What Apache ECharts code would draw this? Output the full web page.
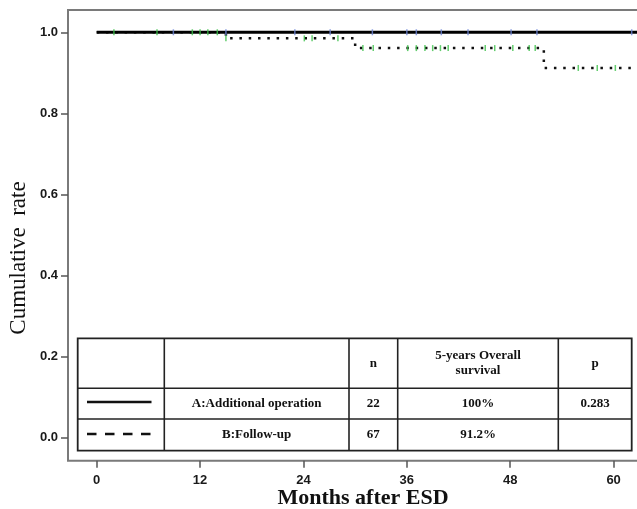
<!DOCTYPE html>
<html>
<head>
<meta charset="utf-8">
<script src="https://cdn.jsdelivr.net/npm/echarts@6/dist/echarts.min.js"></script>
<style>html,body{margin:0;padding:0;background:#fff;}#chart{width:637px;height:509px;}</style>
</head>
<body>
<div id="chart"></div>
<script>
// ---- data ----
const xTicks = [0, 12, 24, 36, 48, 60];
const yTicks = [0.0, 0.2, 0.4, 0.6, 0.8, 1.0];
// Kaplan-Meier step points (month, cumulative rate)
const groupA = [[0, 1.0], [72, 1.0]];
const groupB = [[0, 1.0], [15.0, 0.985], [30.0, 0.961], [51.9, 0.912], [72, 0.912]];
// censored observations (months)
const censorA = [8.9, 15.0, 23.0, 27.1, 32.0, 36.0, 37.1, 40.0, 43.1, 48.1, 51.1, 62.1];
const censorB = [2.0, 7.0, 11.1, 12.0, 12.9, 14.0, 15.0, 24.1, 25.0, 28.0, 30.9, 32.1, 36.1, 37.1, 38.1, 39.0, 39.9, 40.8, 45.1, 46.2, 48.3, 50.2, 50.9, 55.9, 58.1, 60.2];
// table
const tableHeader = ['', '', 'n', '5-years Overall\nsurvival', 'p'];
const tableRows = [
  ['A:Additional operation', '22', '100%', '0.283'],
  ['B:Follow-up', '67', '91.2%', '']
];
const xTitle = 'Months after ESD';
const yTitle = 'Cumulative  rate';

function stepValue(series, m) {
  let v = series[0][1];
  for (const p of series) { if (p[0] <= m) v = p[1]; }
  return v;
}
const censorAData = censorA.map(m => [m, stepValue(groupA, m)]);
const censorBData = censorB.map(m => [m, stepValue(groupB, m)]);

// ---- table graphics ----
const colX = [77.7, 164.3, 349, 397.7, 558.3, 631.7];
const rowY = [338.3, 388.3, 419, 450.7];
const tableFont = 'bold 13px "Liberation Serif", "DejaVu Serif", serif';
const g = [];
g.push({ type: 'rect', shape: { x: colX[0], y: rowY[0], width: colX[5] - colX[0], height: rowY[3] - rowY[0] },
  style: { fill: '#fff', stroke: '#222', lineWidth: 1.8 }, z: 10 });
for (let i = 1; i < colX.length - 1; i++) {
  g.push({ type: 'line', shape: { x1: colX[i], y1: rowY[0], x2: colX[i], y2: rowY[3] }, style: { stroke: '#222', lineWidth: 1.6 }, z: 11 });
}
for (let j = 1; j < rowY.length - 1; j++) {
  g.push({ type: 'line', shape: { x1: colX[0], y1: rowY[j], x2: colX[5], y2: rowY[j] }, style: { stroke: '#222', lineWidth: 1.6 }, z: 11 });
}
function cellText(txt, c, r) {
  return { type: 'text', x: (colX[c] + colX[c + 1]) / 2, y: (rowY[r] + rowY[r + 1]) / 2, z: 12,
    style: { text: txt, font: tableFont, fill: '#111', align: 'center', verticalAlign: 'middle', lineHeight: 15 } };
}
tableHeader.forEach((t, c) => { if (t) g.push(cellText(t, c, 0)); });
tableRows.forEach((row, r) => row.forEach((t, c) => { if (t) g.push(cellText(t, c + 1, r + 1)); }));
// legend samples
g.push({ type: 'line', shape: { x1: 87, y1: 402, x2: 151.5, y2: 402 }, style: { stroke: '#111', lineWidth: 2.5 }, z: 12 });
g.push({ type: 'line', shape: { x1: 87, y1: 434, x2: 151.5, y2: 434 }, style: { stroke: '#111', lineWidth: 2.5, lineDash: [9.5, 8.5] }, z: 12 });
// axis titles
g.push({ type: 'text', x: 363, y: 498, z: 12,
  style: { text: xTitle, font: 'bold 22px "Liberation Serif", serif', fill: '#111', align: 'center', verticalAlign: 'middle' } });
g.push({ type: 'text', x: 19, y: 258, rotation: Math.PI / 2, z: 12,
  style: { text: yTitle, font: '23px "Liberation Serif", serif', fill: '#111', align: 'center', verticalAlign: 'middle' } });

const chart = echarts.init(document.getElementById('chart'), null, { renderer: 'canvas' });
const axisLabelStyle = { color: '#1a1a1a', fontFamily: '"Liberation Sans", Arial, sans-serif', fontWeight: 'bold', fontSize: 13 };
chart.setOption({
  animation: false,
  backgroundColor: '#fff',
  grid: { left: 68, top: 10, width: 649, height: 450.7, outerBoundsMode: 'none', containLabel: false,
    show: true, borderColor: '#7a7a7a', borderWidth: 2, backgroundColor: 'transparent' },
  xAxis: {
    type: 'value', min: -3.33, max: 72,
    axisLine: { show: false, onZero: false },
    axisTick: { show: true, customValues: xTicks, length: 7, lineStyle: { color: '#555', width: 1.5 } },
    axisLabel: { customValues: xTicks, margin: 13, ...axisLabelStyle },
    splitLine: { show: false }
  },
  yAxis: {
    type: 'value', min: -0.057, max: 1.055,
    axisLine: { show: false, onZero: false },
    axisTick: { show: true, customValues: yTicks, length: 7, lineStyle: { color: '#555', width: 1.5 } },
    axisLabel: { customValues: yTicks, margin: 10, formatter: v => v.toFixed(1), ...axisLabelStyle },
    splitLine: { show: false }
  },
  series: [
    { name: 'B:Follow-up', type: 'line', step: 'end', data: groupB, showSymbol: false, z: 2,
      lineStyle: { color: '#111', width: 2.5, type: [2.5, 6.8] } },
    { name: 'A:Additional operation', type: 'line', step: 'end', data: groupA, showSymbol: false, z: 3,
      lineStyle: { color: '#000', width: 3 } },
    { name: 'censor B', type: 'scatter', data: censorBData, symbol: 'rect', symbolSize: [1.5, 6], z: 4,
      itemStyle: { color: '#3cc04a' } },
    { name: 'censor A', type: 'scatter', data: censorAData, symbol: 'rect', symbolSize: [1.5, 6], z: 4,
      itemStyle: { color: '#6f87d8' } }
  ],
  graphic: g
});
</script>
</body>
</html>
